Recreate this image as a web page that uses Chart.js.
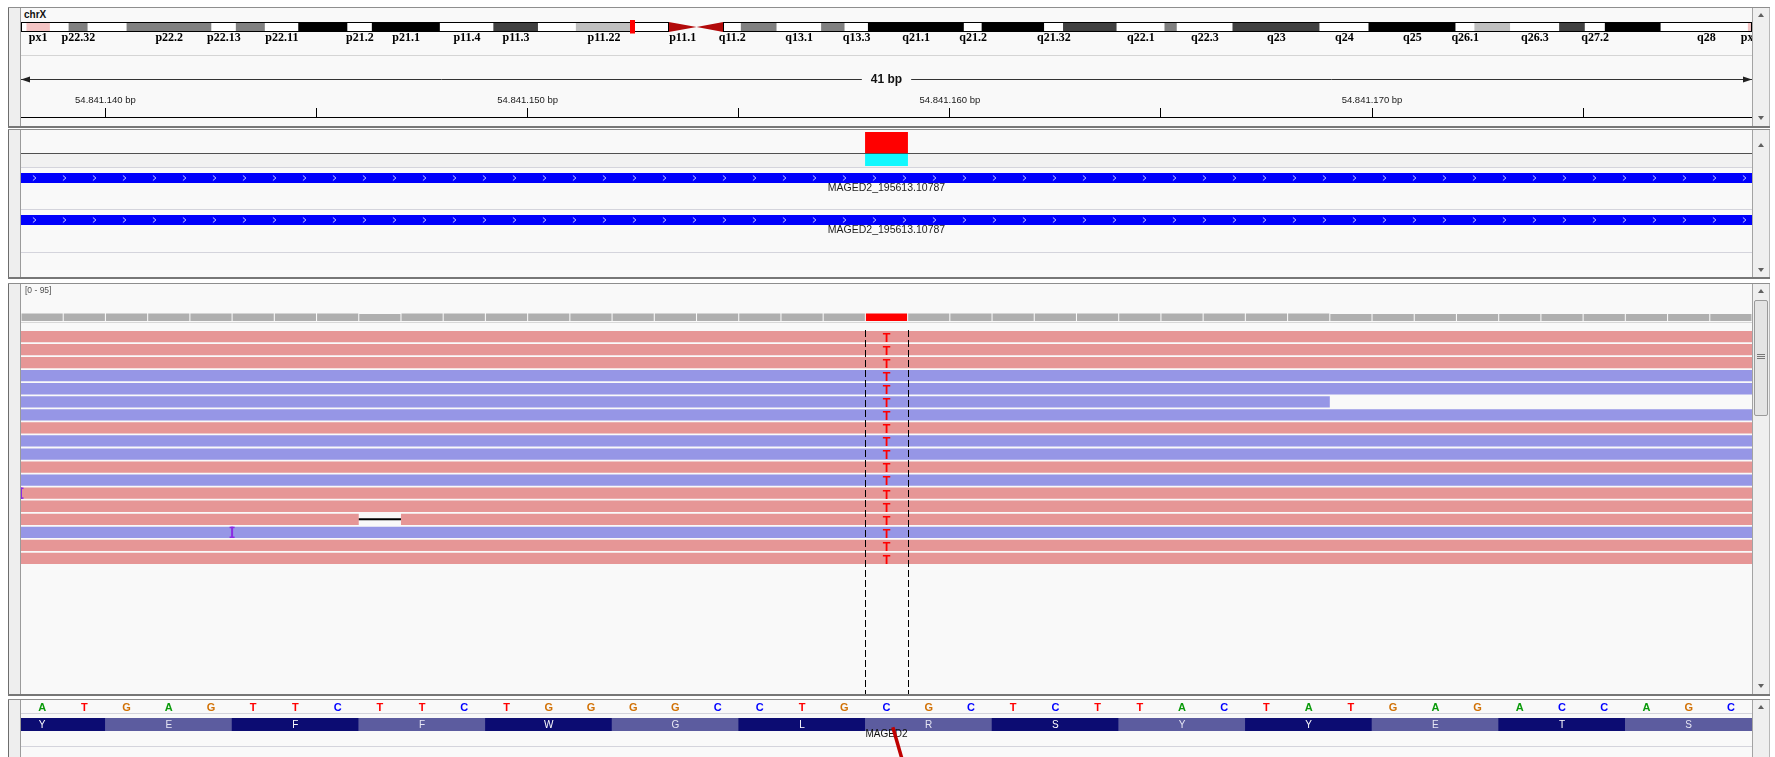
<!DOCTYPE html>
<html>
<head>
<meta charset="utf-8">
<title>chrX:54,841,138-54,841,179</title>
<script src="https://cdn.jsdelivr.net/npm/chart.js@4.4.1/dist/chart.umd.min.js"></script>
<style>
  html, body { margin: 0; padding: 0; background: #ffffff; }
  #stage { position: relative; width: 1775px; height: 757px; overflow: hidden; font-family: "Liberation Sans", Arial, sans-serif; }
  .abs { position: absolute; box-sizing: border-box; }
  .panel { left: 8px; width: 1762px; background: #f9f9f9; border-top: 1px solid #8e8e8e; border-bottom: 2px solid #777777; }
  .gutter { left: 8px; width: 13px; background: #eeeeee; border-left: 1px solid #6d6d6d; border-right: 1px solid #9b9b9b; }
  .vscroll { left: 1752px; width: 18px; background: #efefef; border-left: 1px solid #a3a3a3; border-right: 1px solid #b8b8b8; }
  .up, .down { left: 1758px; width: 0; height: 0; border-left: 3px solid transparent; border-right: 3px solid transparent; }
  .up { border-bottom: 4px solid #606060; }
  .down { border-top: 4px solid #606060; }
  .hline { left: 21px; width: 1731px; height: 1px; }
  canvas { position: absolute; }
</style>
</head>
<body>
<div id="stage">
  <!-- panels -->
  <div class="abs panel" style="top:7px;height:121px"></div>
  <div class="abs panel" style="top:129px;height:150px"></div>
  <div class="abs panel" style="top:283px;height:413px"></div>
  <div class="abs panel" style="top:699px;height:60px;border-bottom:none"></div>

  <div class="abs gutter" style="top:8px;height:118px"></div>
  <div class="abs gutter" style="top:130px;height:147px"></div>
  <div class="abs gutter" style="top:284px;height:410px"></div>
  <div class="abs gutter" style="top:700px;height:57px"></div>

  <div class="abs vscroll" style="top:8px;height:118px"></div>
  <div class="abs vscroll" style="top:130px;height:147px"></div>
  <div class="abs vscroll" style="top:284px;height:410px"></div>
  <div class="abs vscroll" style="top:700px;height:57px"></div>

  <div class="abs up" style="top:13px"></div>
  <div class="abs down" style="top:116px"></div>
  <div class="abs up" style="top:143px"></div>
  <div class="abs down" style="top:268px"></div>
  <div class="abs up" style="top:289px"></div>
  <div class="abs down" style="top:684px"></div>
  <div class="abs up" style="top:705px"></div>

  <!-- alignment scroll thumb -->
  <div class="abs" style="left:1754px;top:300px;width:14px;height:116px;background:#e4e4e4;border:1px solid #9a9a9a;border-radius:2px"></div>
  <div class="abs" style="left:1757px;top:354px;width:8px;height:1px;background:#777"></div>
  <div class="abs" style="left:1757px;top:356px;width:8px;height:1px;background:#777"></div>
  <div class="abs" style="left:1757px;top:358px;width:8px;height:1px;background:#777"></div>

  <!-- track separators -->
  <div class="abs hline" style="top:55px;background:#d5d5d5"></div>
  <div class="abs hline" style="top:153px;background:#505050"></div>
  <div class="abs" style="left:21px;top:154px;width:1731px;height:13px;background:#f1f1f1"></div>
  <div class="abs hline" style="top:167px;background:#d4d4dc"></div>
  <div class="abs hline" style="top:209px;background:#d4d4dc"></div>
  <div class="abs hline" style="top:252px;background:#d4d4dc"></div>
  <div class="abs hline" style="top:322px;background:#d8d8d8"></div>
  <div class="abs hline" style="top:713px;background:#d4d4dc"></div>
  <div class="abs hline" style="top:746px;background:#d4d4dc"></div>

  <div class="abs" style="left:24px;top:9px;font:bold 10px 'Liberation Sans';line-height:12px;color:#111">chrX</div>
</div>

<script>
// ---- locus ----
const CHROM = 'chrX';
const CHROM_LENGTH = 155270560;
const VIEW_START = 54841138;
const VIEW_END = 54841179;

// ---- cytobands (hg19 chrX) ----
const BAND_NAME = ['p22.33','p22.32','p22.31','p22.2','p22.13','p22.12','p22.11','p21.3','p21.2','p21.1',
  'p11.4','p11.3','p11.23','p11.22','p11.21','p11.1','q11.1','q11.2','q12','q13.1',
  'q13.2','q13.3','q21.1','q21.2','q21.31','q21.32','q21.33','q22.1','q22.2','q22.3',
  'q23','q24','q25','q26.1','q26.2','q26.3','q27.1','q27.2','q27.3','q28','px1','px2'];
const BAND_START = [0,4300000,6000000,9500000,17100000,19300000,21900000,24900000,29300000,31500000,
  37600000,42400000,46400000,49800000,54800000,58100000,60600000,63000000,64600000,67800000,
  71800000,73900000,76000000,84600000,86200000,91800000,93500000,98300000,102600000,103700000,
  108700000,116500000,120900000,128700000,130400000,133600000,138000000,140300000,142100000,147100000,
  520000,154931044];
const BAND_END = [4300000,6000000,9500000,17100000,19300000,21900000,24900000,29300000,31500000,37600000,
  42400000,46400000,49800000,54800000,58100000,60600000,63000000,64600000,67800000,71800000,
  73900000,76000000,84600000,86200000,91800000,93500000,98300000,102600000,103700000,108700000,
  116500000,120900000,128700000,130400000,133600000,138000000,140300000,142100000,147100000,155270560,
  2560000,155260560];
const BAND_STAIN = ['gneg','gpos50','gneg','gpos50','gneg','gpos50','gneg','gpos100','gneg','gpos100',
  'gneg','gpos75','gneg','gpos25','gneg','acen','acen','gneg','gpos50','gneg',
  'gpos50','gneg','gpos100','gneg','gpos100','gneg','gpos75','gneg','gpos50','gneg',
  'gpos75','gneg','gpos100','gneg','gpos25','gneg','gpos75','gneg','gpos100','gneg','par','par'];
const BAND_LABELLED = ['px1','p22.32','p22.2','p22.13','p22.11','p21.2','p21.1','p11.4','p11.3','p11.22',
  'p11.1','q11.2','q13.1','q13.3','q21.1','q21.2','q21.32','q22.1','q22.3','q23','q24','q25',
  'q26.1','q26.3','q27.2','q28','px2'];

// ---- ruler ----
const RULER_TICKS = [54841140, 54841145, 54841150, 54841155, 54841160, 54841165, 54841170, 54841175];
const RULER_LABELLED = [54841140, 54841150, 54841160, 54841170];

// ---- variant track ----
const VARIANT_POS = 54841158;
const VARIANT_AF = [1.0];
const GENOTYPE = ['HOM_VAR'];

// ---- feature tracks ----
const FEATURE_NAME = ['MAGED2_195613.10787', 'MAGED2_195613.10787'];
const FEATURE_START = [54840961, 54840961];
const FEATURE_END = [54841322, 54841322];
const FEATURE_STRAND = ['+', '+'];

// ---- coverage ----
const COVERAGE_RANGE = [0, 95];
const COVERAGE = [18,18,18,18,18,18,18,18,17,18,18,18,18,18,18,18,18,18,18,18,18,
                  18,18,18,18,18,18,18,18,18,18,17,17,17,17,17,17,17,17,17,17];

// ---- reads (one per row) ----
const READ_ROW = ['r1','r2','r3','r4','r5','r6','r7','r8','r9','r10','r11','r12','r13','r14','r15','r16','r17','r18'];
const READ_STRAND = ['+','+','+','-','-','-','-','+','-','-','+','-','+','+','+','-','+','+'];
const READ_START = [54841031,54841047,54841040,54841062,54841055,54841019,54841072,54841068,54841083,
                    54841079,54841094,54841101,54841088,54841112,54841107,54841121,54841126,54841133];
const READ_END   = [54841182,54841198,54841191,54841213,54841206,54841169,54841223,54841219,54841234,
                    54841230,54841245,54841252,54841239,54841263,54841258,54841272,54841277,54841284];
const DEL_ROW = ['r15'];
const DEL_START = [54841146];
const DEL_END = [54841147];
const INS_ROW = ['r13', 'r16'];
const INS_POS = [54841138, 54841143];
const MISMATCH_BASE = ['T','T','T','T','T','T','T','T','T','T','T','T','T','T','T','T','T','T'];

// ---- reference sequence and translation ----
const SEQUENCE = 'ATGAGTTCTTCTGGGGCCTGCGCTCTTACTATGAGACCAGC';
const AA_LETTER = ['Y','E','F','F','W','G','L','R','S','Y','Y','E','T','S'];
const AA_START = [54841137,54841140,54841143,54841146,54841149,54841152,54841155,
                  54841158,54841161,54841164,54841167,54841170,54841173,54841176];
const GENE_NAME = 'MAGED2';

// ---- styles ----
const STAIN_COLOR = { gneg: '#ffffff', gpos25: '#bfbfbf', gpos50: '#808080', gpos75: '#404040',
                      gpos100: '#000000', acen: 'rgba(0,0,0,0)', par: '#f4c4c4' };
const ACEN_COLOR = '#b20a0a';
const BASE_COLOR = { A: '#0a9a0a', C: '#0000ff', G: '#d17105', T: '#ff0000' };
const FWD_COLOR = '#e69696';
const REV_COLOR = '#9696e6';
const AA_DARK = '#0c0c72';
const AA_LIGHT = '#5c5c9f';

const stage = document.getElementById('stage');
function mount(left, top, width, height) {
  const c = document.createElement('canvas');
  c.width = width; c.height = height;
  c.style.left = left + 'px'; c.style.top = top + 'px';
  c.style.width = width + 'px'; c.style.height = height + 'px';
  stage.appendChild(c);
  return c;
}
function common(extra) {
  return Object.assign({
    responsive: false, animation: false, devicePixelRatio: 1, events: [],
    plugins: { legend: { display: false }, tooltip: { enabled: false } }
  }, extra);
}
const fmtBp = v => String(v).replace(/\B(?=(\d{3})+(?!\d))/g, '.') + ' bp';
const DATA_LEFT = 21, DATA_W = 1731;

// ================= ideogram =================
const ideogramDecor = {
  id: 'ideogramDecor',
  afterDatasetsDraw(chart) {
    const { ctx, chartArea: a } = chart;
    const x = chart.scales.x;
    const top = a.top, bot = a.bottom, mid = (top + bot) / 2;
    ctx.save();
    // centromere triangles
    BAND_STAIN.forEach((st, i) => {
      if (st !== 'acen') return;
      const x0 = x.getPixelForValue(BAND_START[i]), x1 = x.getPixelForValue(BAND_END[i]);
      ctx.fillStyle = ACEN_COLOR;
      ctx.beginPath();
      if (BAND_NAME[i][0] === 'p') { ctx.moveTo(x0, top); ctx.lineTo(x1, mid); ctx.lineTo(x0, bot); }
      else { ctx.moveTo(x1, top); ctx.lineTo(x0, mid); ctx.lineTo(x1, bot); }
      ctx.closePath(); ctx.fill();
    });
    // arm outlines
    const cenStart = Math.min(...BAND_START.filter((s, i) => BAND_STAIN[i] === 'acen'));
    const cenEnd = Math.max(...BAND_END.filter((s, i) => BAND_STAIN[i] === 'acen'));
    ctx.strokeStyle = '#000'; ctx.lineWidth = 1;
    const pL = x.getPixelForValue(0), pR = x.getPixelForValue(cenStart);
    const qL = x.getPixelForValue(cenEnd), qR = x.getPixelForValue(CHROM_LENGTH);
    ctx.strokeRect(Math.round(pL) + 0.5, top + 0.5, Math.round(pR - pL) - 1, bot - top - 1);
    ctx.strokeRect(Math.round(qL) + 0.5, top + 0.5, Math.round(qR - qL) - 1, bot - top - 1);
    // band names
    ctx.font = 'bold 12px "Liberation Serif"';
    ctx.fillStyle = '#000'; ctx.textAlign = 'center'; ctx.textBaseline = 'middle';
    BAND_NAME.forEach((n, i) => {
      if (!BAND_LABELLED.includes(n)) return;
      const cx = (x.getPixelForValue(BAND_START[i]) + x.getPixelForValue(BAND_END[i])) / 2;
      ctx.fillText(n, cx, bot + 5.5);
    });
    // current view marker
    const vx = x.getPixelForValue((VIEW_START + VIEW_END) / 2);
    ctx.fillStyle = '#ff0000';
    ctx.fillRect(Math.round(vx) - 2, top - 2, 5, bot - top + 3.5);
    ctx.restore();
  }
};
new Chart(mount(DATA_LEFT, 17, DATA_W, 30), {
  type: 'bar',
  data: {
    labels: [CHROM],
    datasets: [{
      data: BAND_START.map((s, i) => ({ y: CHROM, x: [s, BAND_END[i]] })),
      backgroundColor: BAND_STAIN.map(s => STAIN_COLOR[s]),
      borderWidth: 0, barPercentage: 1, categoryPercentage: 1, grouped: false
    }]
  },
  options: common({
    indexAxis: 'y',
    layout: { padding: { top: 5, bottom: 15, left: 0, right: 0 } },
    scales: {
      x: { type: 'linear', min: 0, max: CHROM_LENGTH, display: false },
      y: { type: 'category', display: false }
    }
  }),
  plugins: [ideogramDecor]
});

// ================= ruler =================
const spanArrow = {
  id: 'spanArrow',
  afterDraw(chart) {
    const { ctx } = chart;
    const x = chart.scales.x;
    const y = Math.round(x.bottom - 38) + 0.5;
    const x0 = x.getPixelForValue(VIEW_START), x1 = x.getPixelForValue(VIEW_END);
    const label = (VIEW_END - VIEW_START) + ' bp';
    ctx.save();
    ctx.font = 'bold 12px "Liberation Sans"';
    const tw = ctx.measureText(label).width;
    const cx = (x0 + x1) / 2;
    ctx.strokeStyle = '#333'; ctx.lineWidth = 1;
    ctx.beginPath();
    ctx.moveTo(x0, y); ctx.lineTo(cx - tw / 2 - 9, y);
    ctx.moveTo(cx + tw / 2 + 9, y); ctx.lineTo(x1, y);
    ctx.stroke();
    ctx.fillStyle = '#222';
    ctx.beginPath(); ctx.moveTo(x0, y); ctx.lineTo(x0 + 9, y - 3); ctx.lineTo(x0 + 9, y + 3); ctx.closePath(); ctx.fill();
    ctx.beginPath(); ctx.moveTo(x1, y); ctx.lineTo(x1 - 9, y - 3); ctx.lineTo(x1 - 9, y + 3); ctx.closePath(); ctx.fill();
    ctx.fillStyle = '#111'; ctx.textAlign = 'center'; ctx.textBaseline = 'middle';
    ctx.fillText(label, cx, y + 0.5);
    ctx.restore();
  }
};
new Chart(mount(DATA_LEFT, 60, DATA_W, 64), {
  type: 'scatter',
  data: { datasets: [] },
  options: common({
    layout: { padding: 0 },
    scales: {
      x: {
        type: 'linear', position: 'top', min: VIEW_START, max: VIEW_END,
        afterBuildTicks: s => { s.ticks = RULER_TICKS.map(v => ({ value: v })); },
        afterFit: s => { s.height = 57; s.paddingLeft = 0; s.paddingRight = 0; },
        ticks: {
          autoSkip: false, maxRotation: 0, minRotation: 0, padding: 2, color: '#1a1a1a',
          font: { size: 9.5, family: 'Liberation Sans' },
          callback: v => RULER_LABELLED.includes(v) ? fmtBp(v) : ''
        },
        grid: { drawOnChartArea: false, drawTicks: true, tickLength: 9, color: '#000', lineWidth: 1 },
        border: { display: true, color: '#000', width: 1 }
      },
      y: { display: false, min: 0, max: 1 }
    }
  }),
  plugins: [spanArrow]
});

// ================= variant track =================
new Chart(mount(DATA_LEFT, 132, DATA_W, 21), {
  type: 'bar',
  data: {
    labels: ['site'],
    datasets: [{
      data: VARIANT_AF.map(af => ({ y: 'site', x: [VARIANT_POS, VARIANT_POS + 1] })),
      backgroundColor: '#ff0000', borderWidth: 0, barPercentage: 1, categoryPercentage: 1
    }]
  },
  options: common({
    indexAxis: 'y',
    scales: { x: { type: 'linear', min: VIEW_START, max: VIEW_END, display: false }, y: { display: false } }
  })
});
new Chart(mount(DATA_LEFT, 154, DATA_W, 12), {
  type: 'bar',
  data: {
    labels: ['sample'],
    datasets: [{
      data: GENOTYPE.map(g => ({ y: 'sample', x: [VARIANT_POS, VARIANT_POS + 1] })),
      backgroundColor: GENOTYPE.map(g => g === 'HOM_VAR' ? '#11f8fe' : '#2222ff'),
      borderWidth: 0, barPercentage: 1, categoryPercentage: 1
    }]
  },
  options: common({
    indexAxis: 'y',
    scales: { x: { type: 'linear', min: VIEW_START, max: VIEW_END, display: false }, y: { display: false } }
  })
});

// ================= feature tracks =================
const featureDecor = {
  id: 'featureDecor',
  afterDatasetsDraw(chart) {
    const { ctx, chartArea: a } = chart;
    const x = chart.scales.x;
    const t = chart.config.options.featureIndex;
    const s = Math.max(FEATURE_START[t], VIEW_START), e = Math.min(FEATURE_END[t], VIEW_END);
    const xs = x.getPixelForValue(s), xe = x.getPixelForValue(e);
    const mid = (a.top + a.bottom) / 2;
    ctx.save();
    // strand chevrons
    ctx.strokeStyle = 'rgba(235,235,255,0.85)'; ctx.lineWidth = 1;
    const dir = FEATURE_STRAND[t] === '+' ? 1 : -1;
    for (let px = xs + 13.4; px < xe - 2; px += 30) {
      ctx.beginPath();
      ctx.moveTo(px - 1.5 * dir, mid - 2.5);
      ctx.lineTo(px + 1.5 * dir, mid);
      ctx.lineTo(px - 1.5 * dir, mid + 2.5);
      ctx.stroke();
    }
    ctx.font = '10.5px "Liberation Sans"';
    ctx.fillStyle = '#1e1e1e'; ctx.textAlign = 'center'; ctx.textBaseline = 'middle';
    ctx.fillText(FEATURE_NAME[t], (xs + xe) / 2, a.bottom + 5.5);
    ctx.restore();
  }
};
[173, 215].forEach((top, t) => {
  new Chart(mount(DATA_LEFT, top - 3, DATA_W, 26), {
    type: 'bar',
    data: {
      labels: ['tx'],
      datasets: [{
        data: [{ y: 'tx', x: [FEATURE_START[t], FEATURE_END[t]] }],
        backgroundColor: '#0000fb', borderWidth: 0, barPercentage: 1, categoryPercentage: 1
      }]
    },
    options: common({
      featureIndex: t,
      indexAxis: 'y',
      layout: { padding: { top: 3, bottom: 13, left: 0, right: 0 } },
      scales: { x: { type: 'linear', min: VIEW_START, max: VIEW_END, display: false }, y: { display: false } }
    }),
    plugins: [featureDecor]
  });
});

// ================= coverage =================
const POSITIONS = SEQUENCE.split('').map((b, i) => VIEW_START + i);
const rangeLabel = {
  id: 'rangeLabel',
  afterDraw(chart) {
    const { ctx } = chart;
    ctx.save();
    ctx.font = '8.5px "Liberation Sans"';
    ctx.fillStyle = '#505050'; ctx.textAlign = 'left'; ctx.textBaseline = 'middle';
    ctx.fillText('[' + COVERAGE_RANGE[0] + ' - ' + COVERAGE_RANGE[1] + ']', 4, 8.7);
    ctx.restore();
  }
};
new Chart(mount(DATA_LEFT, 282, DATA_W, 39), {
  type: 'bar',
  data: {
    labels: POSITIONS,
    datasets: [{
      data: COVERAGE,
      backgroundColor: POSITIONS.map(p => p === VARIANT_POS ? BASE_COLOR[MISMATCH_BASE[0]] : '#afafaf'),
      borderWidth: 0, barPercentage: 0.975, categoryPercentage: 1
    }]
  },
  options: common({
    scales: {
      x: { type: 'category', display: false, offset: true },
      y: { type: 'linear', min: COVERAGE_RANGE[0], max: COVERAGE_RANGE[1], display: false }
    }
  }),
  plugins: [rangeLabel]
});

// ================= alignments =================
const readBlocks = [];
READ_ROW.forEach((row, r) => {
  let blocks = [[READ_START[r], READ_END[r]]];
  DEL_ROW.forEach((dr, d) => {
    if (dr !== row) return;
    const nb = [];
    blocks.forEach(([s, e]) => {
      if (DEL_START[d] >= s && DEL_END[d] <= e) { nb.push([s, DEL_START[d]]); nb.push([DEL_END[d], e]); }
      else nb.push([s, e]);
    });
    blocks = nb;
  });
  blocks.forEach(b => readBlocks.push({ y: row, x: b, strand: READ_STRAND[r] }));
});

const alignmentDecor = {
  id: 'alignmentDecor',
  afterDatasetsDraw(chart) {
    const { ctx, chartArea: a } = chart;
    const x = chart.scales.x, y = chart.scales.y;
    const band = (a.bottom - a.top) / READ_ROW.length;
    const h = band * 0.865;
    ctx.save();
    // deletions
    ctx.strokeStyle = '#000'; ctx.lineWidth = 2;
    DEL_ROW.forEach((row, d) => {
      const cy = y.getPixelForValue(READ_ROW.indexOf(row));
      ctx.beginPath();
      ctx.moveTo(x.getPixelForValue(DEL_START[d]), cy); ctx.lineTo(x.getPixelForValue(DEL_END[d]), cy);
      ctx.stroke();
    });
    // insertions
    ctx.fillStyle = '#8a2be2';
    INS_ROW.forEach((row, k) => {
      const cy = y.getPixelForValue(READ_ROW.indexOf(row));
      const px = x.getPixelForValue(INS_POS[k]);
      ctx.fillRect(px - 1, cy - h / 2, 2, h);
      ctx.fillRect(px - 2.5, cy - h / 2, 5, 1.5);
      ctx.fillRect(px - 2.5, cy + h / 2 - 1.5, 5, 1.5);
    });
    // mismatches
    ctx.font = 'bold 12.5px "Liberation Sans"';
    ctx.textAlign = 'center'; ctx.textBaseline = 'alphabetic';
    const mx = x.getPixelForValue(VARIANT_POS + 0.5);
    READ_ROW.forEach((row, r) => {
      if (READ_START[r] > VARIANT_POS || READ_END[r] <= VARIANT_POS) return;
      const cy = y.getPixelForValue(r);
      ctx.fillStyle = BASE_COLOR[MISMATCH_BASE[r]];
      ctx.fillText(MISMATCH_BASE[r], mx, cy + h / 2 - 0.3);
    });
    // centre guides
    ctx.strokeStyle = '#000'; ctx.lineWidth = 1; ctx.setLineDash([7, 3]);
    [VARIANT_POS, VARIANT_POS + 1].forEach(p => {
      const px = Math.round(x.getPixelForValue(p)) + 0.5;
      ctx.beginPath(); ctx.moveTo(px, a.top); ctx.lineTo(px, chart.height); ctx.stroke();
    });
    ctx.restore();
  }
};
new Chart(mount(DATA_LEFT, 330, DATA_W, 364), {
  type: 'bar',
  data: {
    labels: READ_ROW,
    datasets: [{
      data: readBlocks,
      backgroundColor: c => (c.raw && c.raw.strand === '-') ? REV_COLOR : FWD_COLOR,
      borderWidth: 0, barPercentage: 0.865, categoryPercentage: 1, grouped: false
    }]
  },
  options: common({
    indexAxis: 'y',
    layout: { padding: { top: 0, bottom: 129, left: 0, right: 0 } },
    scales: {
      x: { type: 'linear', min: VIEW_START, max: VIEW_END, display: false },
      y: { type: 'category', display: false }
    }
  }),
  plugins: [alignmentDecor]
});

// ================= sequence & translation =================
const sequenceDecor = {
  id: 'sequenceDecor',
  afterDatasetsDraw(chart) {
    const { ctx, chartArea: a } = chart;
    const x = chart.scales.x;
    ctx.save();
    ctx.textAlign = 'center'; ctx.textBaseline = 'middle';
    ctx.font = 'bold 11px "Liberation Sans"';
    SEQUENCE.split('').forEach((b, i) => {
      ctx.fillStyle = BASE_COLOR[b];
      ctx.fillText(b, x.getPixelForValue(VIEW_START + i + 0.5), a.top - 10.5);
    });
    ctx.font = '10px "Liberation Sans"';
    AA_LETTER.forEach((aa, k) => {
      ctx.fillStyle = k % 2 ? '#e6e6f4' : '#ffffff';
      ctx.fillText(aa, x.getPixelForValue(AA_START[k] + 1.5), (a.top + a.bottom) / 2 + 0.5);
    });
    ctx.fillStyle = '#111';
    ctx.fillText(GENE_NAME, x.getPixelForValue((VIEW_START + VIEW_END) / 2), a.bottom + 3.5);
    // pointer stroke onto the variant codon
    ctx.strokeStyle = '#bf0000'; ctx.lineWidth = 3.5; ctx.lineCap = 'butt';
    ctx.beginPath();
    ctx.moveTo(x.getPixelForValue(VARIANT_POS + 0.65), a.top + 9.3);
    ctx.lineTo(x.getPixelForValue(VARIANT_POS + 0.86), chart.height + 1);
    ctx.stroke();
    ctx.restore();
  }
};
new Chart(mount(DATA_LEFT, 699, DATA_W, 58), {
  type: 'bar',
  data: {
    labels: ['aa'],
    datasets: [{
      data: AA_START.map(s => ({ y: 'aa', x: [s, s + 3] })),
      backgroundColor: AA_START.map((s, k) => k % 2 ? AA_LIGHT : AA_DARK),
      borderWidth: 0, barPercentage: 1, categoryPercentage: 1, grouped: false
    }]
  },
  options: common({
    indexAxis: 'y',
    layout: { padding: { top: 19, bottom: 26, left: 0, right: 0 } },
    scales: {
      x: { type: 'linear', min: VIEW_START, max: VIEW_END, display: false },
      y: { type: 'category', display: false }
    }
  }),
  plugins: [sequenceDecor]
});
</script>
</body>
</html>
